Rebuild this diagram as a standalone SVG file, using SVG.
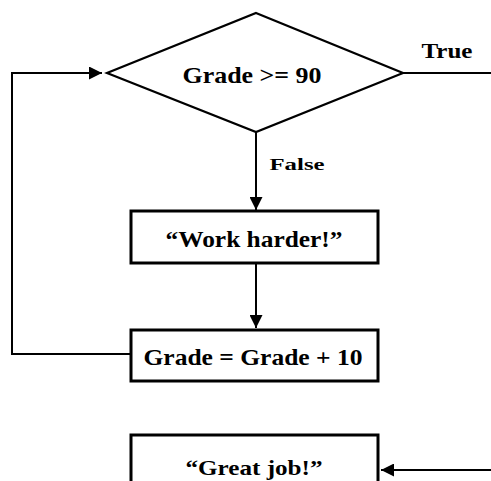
<svg xmlns="http://www.w3.org/2000/svg" width="491" height="481" viewBox="0 0 491 481">
<style>
.box{fill:#fff;stroke:#000;stroke-width:3}
.dia{fill:#fff;stroke:#000;stroke-width:2.2}
.ln{fill:none;stroke:#000;stroke-width:2}
.t{font-family:"Liberation Serif","Times New Roman",serif;font-weight:bold;fill:#000;text-anchor:middle}
</style>
<defs>
<marker id="ah" viewBox="0 0 10 10" refX="10" refY="5" markerWidth="6.5" markerHeight="6.5" orient="auto" markerUnits="strokeWidth">
<path d="M0,0 L10,5 L0,10 z" fill="#000"/>
</marker>
</defs>
<rect width="491" height="481" fill="#fff"/>
<g id="connectors">
<line class="ln" x1="256" y1="132" x2="256" y2="210" marker-end="url(#ah)"/>
<line class="ln" x1="256" y1="263" x2="256" y2="328" marker-end="url(#ah)"/>
<polyline class="ln" points="131,354 12,354 12,73 102,73" marker-end="url(#ah)"/>
<line class="ln" x1="403" y1="73" x2="491" y2="73"/>
<line class="ln" x1="491" y1="470" x2="381" y2="470" marker-end="url(#ah)"/>
<text class="t" x="447" y="58" font-size="21" textLength="51" lengthAdjust="spacingAndGlyphs">True</text>
<text class="t" x="297" y="170" font-size="16" textLength="55" lengthAdjust="spacingAndGlyphs">False</text>
</g>
<g id="decision">
<polygon class="dia" points="256,13 403,73 256,132 107,73"/>
<text class="t" x="252" y="83" font-size="23" textLength="139" lengthAdjust="spacingAndGlyphs">Grade &gt;= 90</text>
</g>
<g id="work-harder">
<rect class="box" x="131" y="211" width="247" height="52"/>
<text class="t" x="254" y="247" font-size="24" textLength="177" lengthAdjust="spacingAndGlyphs">“Work harder!”</text>
</g>
<g id="increment">
<rect class="box" x="131" y="330" width="247" height="51"/>
<text class="t" x="253" y="365" font-size="24" textLength="219" lengthAdjust="spacingAndGlyphs">Grade = Grade + 10</text>
</g>
<g id="great-job">
<rect class="box" x="131" y="435" width="247" height="60"/>
<text class="t" x="254" y="475" font-size="22" textLength="137" lengthAdjust="spacingAndGlyphs">“Great job!”</text>
</g>
</svg>
